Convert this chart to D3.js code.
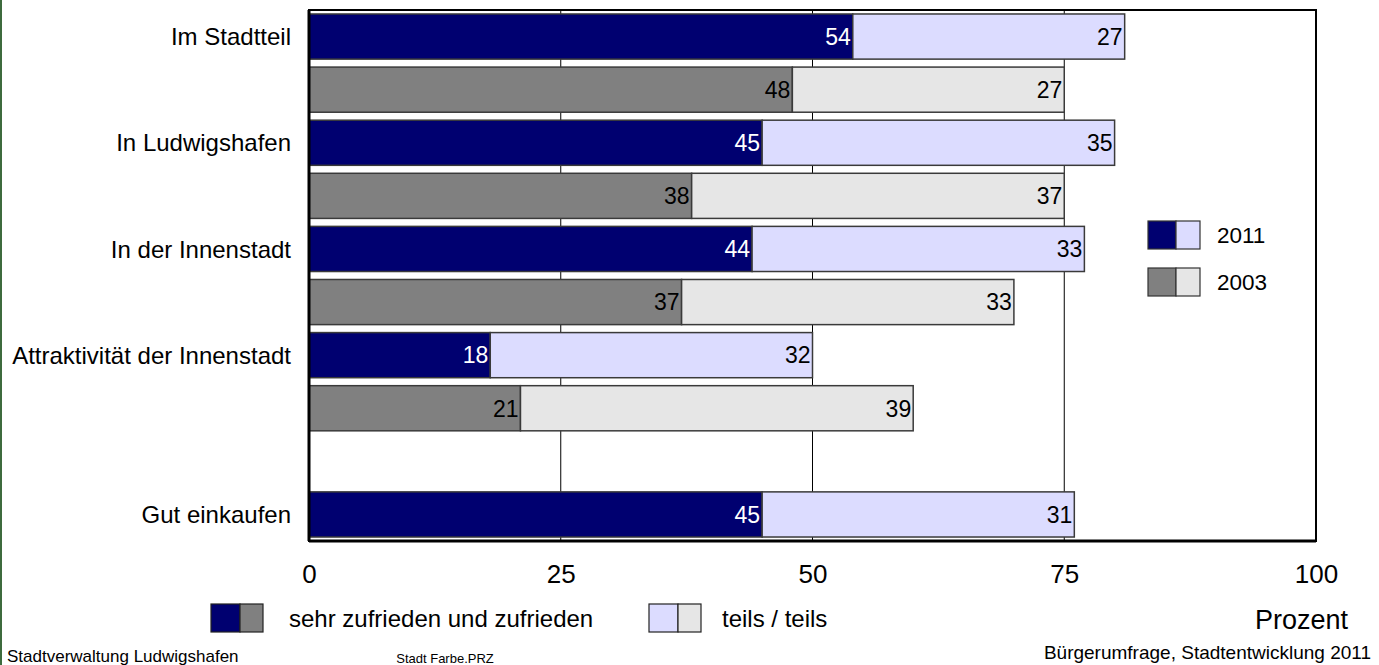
<!DOCTYPE html>
<html><head><meta charset="utf-8">
<script src="https://cdn.jsdelivr.net/npm/d3@7"></script>
<style>body{margin:0;background:#fff;} svg{display:block;font-family:"Liberation Sans",Arial,sans-serif;}</style>
</head><body>
<svg id="c" width="1379" height="665"></svg>
<script>
const categories = ["Im Stadtteil","In Ludwigshafen","In der Innenstadt","Attraktivität der Innenstadt","Gut einkaufen"];
const years = ["2011","2003"];
const zufrieden2011 = [54,45,44,18,45];
const teils2011 = [27,35,33,32,31];
const zufrieden2003 = [48,38,37,21,null];
const teils2003 = [27,37,33,39,null];
const xTicks = [0,25,50,75,100];
const seriesNames = ["sehr zufrieden und zufrieden","teils / teils"];

const colors = {
  "2011": ["#000070","#dcdcff"],
  "2003": ["#808080","#e6e6e6"]
};

const svg = d3.select("#c");
const L=309, R=1316, T=10, B=541;

const rows = [];
categories.forEach((c,i)=>{
  if (zufrieden2003[i]==null) {
    rows.push({key:c+"|gap", cat:c, year:null, a:null, b:null});
    rows.push({key:c+"|2011", cat:c, year:"2011", a:zufrieden2011[i], b:teils2011[i]});
  } else {
    rows.push({key:c+"|2011", cat:c, year:"2011", a:zufrieden2011[i], b:teils2011[i]});
    rows.push({key:c+"|2003", cat:c, year:"2003", a:zufrieden2003[i], b:teils2003[i]});
  }
});

const x = d3.scaleLinear().domain([0,100]).range([L,R]);
const y = d3.scaleBand().domain(rows.map(r=>r.key)).range([T,B]).paddingInner(0.15).paddingOuter(0.075);

// green left edge
svg.append("rect").attr("x",0).attr("y",0).attr("width",2).attr("height",665).attr("fill","#3d6b3d");

// gridlines
svg.append("g").selectAll("line").data(xTicks.slice(1,-1)).join("line")
  .attr("x1",d=>x(d)).attr("x2",d=>x(d)).attr("y1",T).attr("y2",B)
  .attr("stroke","#000").attr("stroke-width",1);

// bars
const VF = 23;
const g = svg.append("g");
rows.filter(r=>r.a!=null).forEach(r=>{
  const [c1,c2] = colors[r.year];
  const yy = y(r.key), h = y.bandwidth();
  g.append("rect").attr("x",x(0)).attr("y",yy).attr("width",x(r.a)-x(0)).attr("height",h)
    .attr("fill",c1).attr("stroke","#3a3a3a").attr("stroke-width",1.5);
  g.append("rect").attr("x",x(r.a)).attr("y",yy).attr("width",x(r.a+r.b)-x(r.a)).attr("height",h)
    .attr("fill",c2).attr("stroke","#3a3a3a").attr("stroke-width",1.5);
  g.append("text").attr("x",x(r.a)-2).attr("y",yy+h/2+VF*0.36).attr("text-anchor","end")
    .attr("font-size",VF).attr("fill",r.year==="2011"?"#fff":"#000").text(r.a);
  g.append("text").attr("x",x(r.a+r.b)-2).attr("y",yy+h/2+VF*0.36).attr("text-anchor","end")
    .attr("font-size",VF).attr("fill","#000").text(r.b);
});

// frame
svg.append("rect").attr("x",L).attr("y",T).attr("width",R-L).attr("height",B-T)
  .attr("fill","none").attr("stroke","#000").attr("stroke-width",2);
svg.append("line").attr("x1",L).attr("x2",L).attr("y1",T).attr("y2",B).attr("stroke","#000").attr("stroke-width",3);
svg.append("line").attr("x1",L).attr("x2",R).attr("y1",B).attr("y2",B).attr("stroke","#000").attr("stroke-width",3);

// category labels
const CF = 24;
svg.append("g").selectAll("text").data(categories).join("text")
  .attr("x",291).attr("y",d=>y(d+"|2011")+y.bandwidth()/2+CF*0.36)
  .attr("text-anchor","end").attr("font-size",CF).attr("fill","#000").text(d=>d);

// x axis
const axis = svg.append("g").attr("transform",`translate(0,${B})`)
  .call(d3.axisBottom(x).tickValues(xTicks).tickSize(0).tickPadding(24).tickFormat(d3.format("d")));
axis.select(".domain").remove();
axis.selectAll("text").attr("font-size",26).attr("fill","#000").attr("font-family","Liberation Sans, Arial, sans-serif");

// right legend
years.forEach((yr,i)=>{
  const yy = 221 + i*47;
  svg.append("rect").attr("x",1148).attr("y",yy).attr("width",28).attr("height",28).attr("fill",colors[yr][0]).attr("stroke","#333").attr("stroke-width",1.2);
  svg.append("rect").attr("x",1176).attr("y",yy).attr("width",24).attr("height",28).attr("fill",colors[yr][1]).attr("stroke","#333").attr("stroke-width",1.2);
  svg.append("text").attr("x",1217).attr("y",yy+22).attr("font-size",22.5).attr("fill","#000").text(yr);
});

// bottom legend
const bl = [{x:211, tx:289, c:[colors["2011"][0],colors["2003"][0]]},{x:649, tx:722, c:[colors["2011"][1],colors["2003"][1]]}];
bl.forEach((d,i)=>{
  svg.append("rect").attr("x",d.x).attr("y",604).attr("width",29).attr("height",28).attr("fill",d.c[0]).attr("stroke","#222").attr("stroke-width",1.2);
  svg.append("rect").attr("x",d.x+29).attr("y",604).attr("width",23).attr("height",28).attr("fill",d.c[1]).attr("stroke","#222").attr("stroke-width",1.2);
  svg.append("text").attr("x",d.tx).attr("y",627).attr("font-size",24).attr("fill","#000").text(seriesNames[i]);
});

svg.append("text").attr("x",1348).attr("y",629).attr("text-anchor","end").attr("font-size",27).attr("fill","#000").text("Prozent");

// footer
svg.append("text").attr("x",7).attr("y",662).attr("font-size",17).attr("fill","#000").text("Stadtverwaltung Ludwigshafen");
svg.append("text").attr("x",445).attr("y",663).attr("text-anchor","middle").attr("font-size",13).attr("fill","#000").text("Stadt Farbe.PRZ");
svg.append("text").attr("x",1371).attr("y",659).attr("text-anchor","end").attr("font-size",19).attr("fill","#000").text("Bürgerumfrage, Stadtentwicklung 2011");
</script>
</body></html>
